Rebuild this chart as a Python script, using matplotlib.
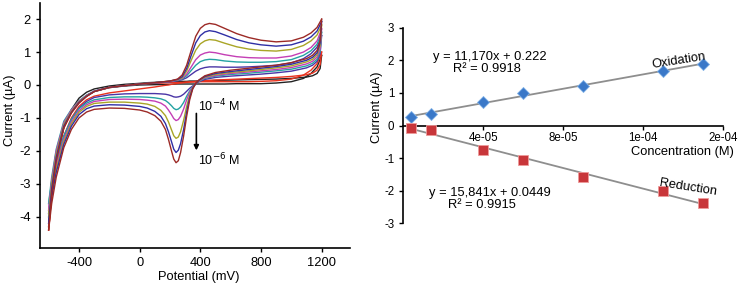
import numpy as np
import matplotlib
matplotlib.use("Agg")
import matplotlib.pyplot as plt
from matplotlib.ticker import FormatStrFormatter

plt.rcParams['font.family'] = ['Liberation Sans', 'DejaVu Sans']
plt.rcParams['axes.unicode_minus'] = False

# ---- cyclic voltammograms (potential in mV, current in uA) ----
E_fwd = [-600, -580, -550, -500, -450, -400, -350, -300, -200, -100, 0, 100, 200, 250,
         280, 310, 340, 370, 400, 430, 460, 500, 560, 640, 720, 800, 900, 1000, 1080,
         1130, 1170, 1200]
E_rev = [1200, 1190, 1170, 1140, 1100, 1000, 900, 800, 700, 600, 500, 430, 390, 370,
         350, 330, 310, 290, 270, 255, 240, 225, 210, 190, 170, 140, 100, 50, 0, -100,
         -200, -300, -350, -400, -450, -500, -550, -580, -600]

cv_colors = ['#222222', '#e8321e', '#4a35a6', '#25a3a3', '#c43fb5', '#a9a526', '#2f2fa5', '#9c2a26']

cv_fwd = [
    # black (blank)
    [-4.30, -3.25, -2.25, -1.28, -0.82, -0.52, -0.33, -0.19, -0.08, -0.03, 0.00, 0.01, 0.02, 0.03,
     0.03, 0.03, 0.03, 0.03, 0.03, 0.03, 0.03, 0.03, 0.03, 0.04, 0.04, 0.04, 0.06, 0.10, 0.20,
     0.35, 0.55, 0.90],
    # red (blank)
    [-4.40, -3.30, -2.30, -1.30, -0.84, -0.54, -0.34, -0.20, -0.08, -0.02, 0.03, 0.05, 0.07, 0.08,
     0.08, 0.09, 0.09, 0.09, 0.10, 0.10, 0.10, 0.10, 0.10, 0.10, 0.10, 0.11, 0.13, 0.18, 0.30,
     0.45, 0.65, 1.00],
    # purple
    [-3.90, -2.95, -2.05, -1.18, -0.78, -0.50, -0.32, -0.19, -0.07, -0.02, 0.03, 0.06, 0.10, 0.13,
     0.16, 0.22, 0.32, 0.42, 0.49, 0.53, 0.55, 0.55, 0.54, 0.54, 0.55, 0.57, 0.60, 0.67, 0.80,
     0.95, 1.15, 1.50],
    # teal
    [-3.60, -2.80, -1.95, -1.10, -0.74, -0.48, -0.31, -0.19, -0.07, -0.02, 0.03, 0.07, 0.11, 0.14,
     0.18, 0.28, 0.44, 0.60, 0.71, 0.76, 0.78, 0.77, 0.73, 0.70, 0.69, 0.69, 0.71, 0.77, 0.90,
     1.04, 1.24, 1.60],
    # magenta
    [-3.80, -2.90, -2.00, -1.15, -0.76, -0.49, -0.32, -0.19, -0.07, -0.02, 0.03, 0.07, 0.11, 0.15,
     0.20, 0.33, 0.55, 0.77, 0.91, 0.97, 1.00, 0.98, 0.92, 0.86, 0.83, 0.82, 0.82, 0.88, 1.00,
     1.14, 1.34, 1.70],
    # olive
    [-4.00, -3.00, -2.10, -1.20, -0.80, -0.51, -0.33, -0.20, -0.07, -0.02, 0.03, 0.07, 0.12, 0.16,
     0.22, 0.42, 0.75, 1.06, 1.25, 1.34, 1.38, 1.36, 1.27, 1.16, 1.09, 1.05, 1.03, 1.08, 1.20,
     1.34, 1.52, 1.82],
    # blue
    [-4.20, -3.15, -2.20, -1.25, -0.83, -0.53, -0.34, -0.20, -0.07, -0.02, 0.03, 0.07, 0.12, 0.17,
     0.25, 0.50, 0.90, 1.28, 1.50, 1.61, 1.65, 1.62, 1.52, 1.38, 1.28, 1.22, 1.18, 1.22, 1.33,
     1.46, 1.64, 1.93],
    # brown
    [-4.40, -3.30, -2.30, -1.30, -0.85, -0.55, -0.35, -0.20, -0.07, -0.02, 0.03, 0.07, 0.12, 0.18,
     0.30, 0.60, 1.05, 1.48, 1.72, 1.83, 1.87, 1.84, 1.72, 1.56, 1.44, 1.36, 1.31, 1.34, 1.45,
     1.58, 1.75, 2.00],
]

cv_rev = [
    # black
    [0.90, 0.50, 0.35, 0.28, 0.24, 0.20, 0.18, 0.17, 0.16, 0.15, 0.14, 0.13, 0.13, 0.12,
     0.12, 0.12, 0.11, 0.11, 0.11, 0.11, 0.10, 0.10, 0.10, 0.10, 0.09, 0.09, 0.08, 0.07, 0.05, 0.02,
     -0.03, -0.12, -0.22, -0.40, -0.75, -1.30, -2.20, -3.20, -4.30],
    # red
    [1.00, 0.62, 0.45, 0.36, 0.31, 0.26, 0.23, 0.21, 0.19, 0.17, 0.15, 0.13, 0.12, 0.11,
     0.10, 0.09, 0.08, 0.07, 0.06, 0.05, 0.04, 0.03, 0.02, 0.00, -0.01, -0.03, -0.06, -0.09, -0.12, -0.18,
     -0.24, -0.34, -0.45, -0.65, -1.00, -1.55, -2.45, -3.35, -4.40],
    # purple
    [1.50, 0.95, 0.72, 0.60, 0.52, 0.42, 0.37, 0.33, 0.30, 0.27, 0.23, 0.17, 0.10, 0.04,
     -0.03, -0.10, -0.19, -0.28, -0.34, -0.36, -0.37, -0.36, -0.33, -0.30, -0.28, -0.27, -0.26, -0.26, -0.26, -0.27,
     -0.30, -0.38, -0.50, -0.70, -1.05, -1.58, -2.40, -3.10, -3.90],
    # teal
    [1.60, 1.02, 0.78, 0.66, 0.58, 0.48, 0.43, 0.39, 0.35, 0.32, 0.27, 0.20, 0.11, 0.04,
     -0.06, -0.18, -0.34, -0.53, -0.67, -0.73, -0.75, -0.71, -0.63, -0.54, -0.47, -0.42, -0.39, -0.37, -0.36, -0.36,
     -0.38, -0.45, -0.55, -0.72, -1.05, -1.55, -2.30, -2.95, -3.60],
    # magenta
    [1.70, 1.10, 0.85, 0.72, 0.64, 0.53, 0.47, 0.43, 0.39, 0.35, 0.29, 0.22, 0.12, 0.04,
     -0.07, -0.22, -0.45, -0.73, -0.95, -1.05, -1.08, -1.02, -0.90, -0.76, -0.64, -0.55, -0.49, -0.46, -0.44, -0.43,
     -0.44, -0.50, -0.60, -0.78, -1.12, -1.65, -2.45, -3.10, -3.80],
    # olive
    [1.82, 1.20, 0.92, 0.78, 0.70, 0.58, 0.52, 0.47, 0.42, 0.38, 0.32, 0.24, 0.13, 0.05,
     -0.08, -0.30, -0.65, -1.07, -1.42, -1.58, -1.62, -1.54, -1.36, -1.12, -0.93, -0.77, -0.65, -0.58, -0.55, -0.52,
     -0.52, -0.56, -0.65, -0.83, -1.18, -1.72, -2.55, -3.25, -4.00],
    # blue
    [1.93, 1.28, 0.98, 0.84, 0.75, 0.63, 0.56, 0.51, 0.46, 0.41, 0.35, 0.26, 0.14, 0.05,
     -0.10, -0.38, -0.82, -1.35, -1.78, -1.98, -2.05, -1.95, -1.72, -1.42, -1.17, -0.95, -0.80, -0.70, -0.65, -0.61,
     -0.60, -0.64, -0.72, -0.90, -1.25, -1.80, -2.65, -3.40, -4.20],
    # brown
    [2.00, 1.35, 1.05, 0.90, 0.80, 0.68, 0.60, 0.55, 0.50, 0.45, 0.38, 0.28, 0.15, 0.05,
     -0.12, -0.45, -0.95, -1.55, -2.05, -2.30, -2.36, -2.25, -2.00, -1.65, -1.35, -1.10, -0.93, -0.82, -0.76, -0.71,
     -0.70, -0.74, -0.82, -1.00, -1.35, -1.90, -2.80, -3.60, -4.40],
]

# ---- calibration data ----
conc = [3.7e-6, 1.4e-5, 4.0e-5, 6.0e-5, 9.0e-5, 1.3e-4, 1.5e-4]
i_ox = [0.26, 0.36, 0.71, 1.01, 1.21, 1.66, 1.89]
i_red = [-0.07, -0.15, -0.74, -1.05, -1.59, -2.01, -2.38]

W, H = 743, 289
fig = plt.figure(figsize=(W / 100, H / 100), dpi=100)

# left panel: CVs
ax1 = fig.add_axes([40 / W, 1 - 248 / H, 310 / W, 245 / H])
for c, f, r in zip(cv_colors, cv_fwd, cv_rev):
    ax1.plot(E_fwd, f, color=c, lw=1.0)
    ax1.plot(E_rev, r, color=c, lw=1.0)
ax1.set_xlim(-657, 1387)
ax1.set_ylim(-4.95, 2.49)
ax1.set_xticks([-400, 0, 400, 800, 1200])
ax1.set_yticks([-4, -3, -2, -1, 0, 1, 2])
for s in ['top', 'right']:
    ax1.spines[s].set_visible(False)
for s in ['left', 'bottom']:
    ax1.spines[s].set_linewidth(1.2)
ax1.tick_params(direction='out', length=3, width=1, labelsize=9.3)

ax1.annotate('', xy=(374, -2.07), xytext=(374, -0.78),
             arrowprops=dict(arrowstyle='-|>', color='black', lw=1.2, mutation_scale=7))
ax1.text(385, -0.65, r'10$^{-4}$ M', fontsize=9, va='center', ha='left')
ax1.text(385, -2.28, r'10$^{-6}$ M', fontsize=9, va='center', ha='left')

fig.text(10 / W, 1 - 110 / H, 'Current (\u00b5A)', rotation=90, fontsize=9.3, ha='center', va='center')
fig.text(199 / W, 1 - 277 / H, 'Potential (mV)', fontsize=9.3, ha='center', va='center')

# right panel: calibration
ax2 = fig.add_axes([403.3 / W, 1 - 223.3 / H, 320 / W, 195.6 / H])
p_ox = np.polyfit(conc, i_ox, 1)
p_red = np.polyfit(conc, i_red, 1)
xf = np.array([conc[0], conc[-1]])
ax2.plot(xf, np.polyval(p_ox, xf), color='#8e8e8e', lw=1.3, zorder=2)
ax2.plot(xf, np.polyval(p_red, xf), color='#8e8e8e', lw=1.3, zorder=2)
ax2.plot(conc, i_ox, 'D', color='#3a78c8', mec='#7fb0e6', mew=0.6, ms=6, zorder=3, clip_on=False)
ax2.plot(conc, i_red, 's', color='#c8363a', mec='#ee9a9a', mew=0.6, ms=7.5, zorder=3, clip_on=False)
ax2.set_xlim(0, 1.6e-4)
ax2.set_ylim(-3, 3)
ax2.set_xticks([4e-5, 8e-5, 1.2e-4, 1.6e-4])
ax2.xaxis.set_major_formatter(FormatStrFormatter('%.0e'))
ax2.set_yticks([-3, -2, -1, 0, 1, 2, 3])
ax2.spines['bottom'].set_position(('data', 0))
for s in ['top', 'right']:
    ax2.spines[s].set_visible(False)
for s in ['left', 'bottom']:
    ax2.spines[s].set_linewidth(1.2)
ax2.tick_params(direction='out', length=3, width=1, labelsize=8.3)
ax2.tick_params(axis='x', pad=1.5)

ax2.text(0.27, 0.85, 'y = 11,170x + 0.222', transform=ax2.transAxes, fontsize=9.3, ha='center', va='center')
ax2.text(0.26, 0.79, 'R\u00b2 = 0.9918', transform=ax2.transAxes, fontsize=9.3, ha='center', va='center')
ax2.text(0.27, 0.154, 'y = 15,841x + 0.0449', transform=ax2.transAxes, fontsize=9.3, ha='center', va='center')
ax2.text(0.247, 0.092, 'R\u00b2 = 0.9915', transform=ax2.transAxes, fontsize=9.3, ha='center', va='center')
ax2.text(0.86, 0.83, 'Oxidation', transform=ax2.transAxes, fontsize=9.3, ha='center', va='center', rotation=9)
ax2.text(0.89, 0.185, 'Reduction', transform=ax2.transAxes, fontsize=9.3, ha='center', va='center', rotation=-9)

fig.text(377 / W, 1 - 107 / H, 'Current (\u00b5A)', rotation=90, fontsize=9.3, ha='center', va='center')
fig.text(682 / W, 1 - 151.5 / H, 'Concentration (M)', fontsize=9.3, ha='center', va='center')

fig.savefig('out.png', dpi=100)
